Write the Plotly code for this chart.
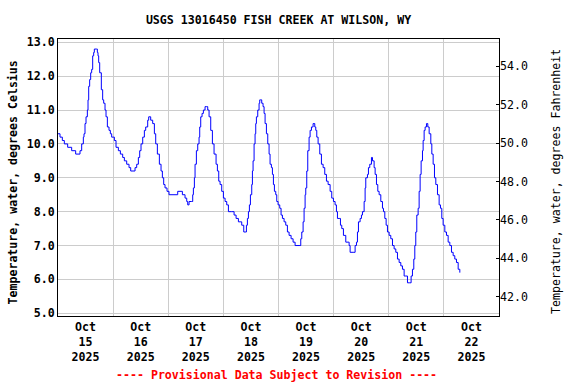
import pandas as pd
import plotly.graph_objects as go

# ---- data ----
hours = [0, 0.87, 1.89, 2.76, 4.21, 5.95, 7.69, 9.15, 9.58, 10.31,
         11.03, 11.32, 11.76, 12.2, 12.78, 13.07, 13.36, 13.79, 14.23, 14.66,
         15.1, 15.53, 15.82, 16.7, 17.13, 17.42, 17.71, 18.15, 18.87, 19.45,
         19.89, 20.47, 20.91, 21.49, 22.21, 22.79, 23.37, 24.54, 25.26, 26.28,
         27.15, 28.16, 28.89, 29.91, 30.92, 31.65, 33.1, 33.54, 34.26, 34.99,
         35.57, 36.15, 36.88, 37.6, 38.18, 39.05, 39.49, 40.36, 41.23, 41.96,
         42.54, 43.26, 44.13, 44.86, 45.44, 46.02, 46.6, 47.47, 48.34, 51.83,
         52.12, 53.57, 54.15, 55.31, 56.04, 56.48, 57.06, 58.22, 58.65, 58.94,
         59.38, 59.67, 60.25, 60.83, 61.41, 61.7, 62.14, 62.72, 63.3, 64.02,
         64.75, 65.19, 65.77, 66.49, 67.22, 67.94, 68.82, 69.4, 69.98, 70.56,
         71.28, 72.01, 72.74, 73.46, 74.19, 75.64, 76.66, 77.53, 78.54, 79.27,
         79.99, 80.87, 81.45, 82.03, 82.46, 82.9, 83.33, 83.77, 84.35, 84.64,
         84.93, 85.37, 85.8, 86.09, 86.38, 86.96, 87.54, 87.83, 88.27, 88.7,
         89.28, 89.72, 90.16, 90.74, 91.32, 91.9, 92.33, 92.91, 93.35, 93.79,
         94.22, 94.8, 95.24, 95.82, 96.54, 97.12, 97.71, 98.43, 99.16, 99.88,
         100.61, 101.48, 102.35, 103.22, 104.96, 105.69, 106.13, 106.71, 107.14, 107.58,
         107.87, 108.3, 108.74, 109.32, 109.76, 110.34, 111.06, 111.79, 112.22, 112.66,
         113.24, 113.97, 114.69, 115.42, 116.14, 116.87, 117.6, 118.47, 119.19, 119.92,
         120.64, 121.22, 121.66, 122.39, 122.97, 123.55, 124.27, 125.29, 126.31, 126.74,
         127.18, 128.48, 129.36, 129.94, 130.37, 130.81, 131.53, 132.11, 132.55, 133.28,
         133.71, 134.0, 134.73, 135.16, 135.74, 136.47, 136.91, 137.63, 138.07, 138.65,
         139.23, 139.81, 140.54, 141.26, 141.7, 142.28, 142.86, 143.44, 144.17, 144.89,
         145.62, 146.34, 147.07, 147.79, 148.52, 149.25, 149.97, 150.7, 151.42, 152.15,
         153.16, 153.74, 154.32, 154.9, 155.34, 155.77, 156.21, 156.79, 157.23, 157.66,
         158.1, 158.68, 158.97, 159.41, 159.84, 160.42, 161.0, 161.59, 162.31, 162.75,
         163.33, 163.91, 164.49, 165.21, 165.94, 166.52, 167.1, 167.68, 168.41, 169.13,
         169.86, 170.59, 171.31, 172.04, 172.76, 173.49, 174.22, 174.94]

temp_c = [10.3, 10.2, 10.1, 10.0, 9.9, 9.8, 9.7, 9.7, 9.8, 10.0,
          10.2, 10.3, 10.6, 10.8, 11.0, 11.3, 11.7, 11.9, 12.1, 12.2,
          12.6, 12.7, 12.8, 12.8, 12.7, 12.6, 12.4, 12.1, 11.6, 11.3,
          11.2, 11.0, 10.8, 10.5, 10.4, 10.3, 10.2, 10.1, 9.9, 9.8,
          9.7, 9.6, 9.5, 9.4, 9.3, 9.2, 9.2, 9.3, 9.4, 9.6,
          9.8, 10.0, 10.2, 10.4, 10.5, 10.7, 10.8, 10.7, 10.6, 10.3,
          10.0, 9.7, 9.4, 9.2, 9.0, 8.8, 8.7, 8.6, 8.5, 8.5,
          8.6, 8.6, 8.5, 8.4, 8.3, 8.2, 8.3, 8.3, 8.5, 8.7,
          9.0, 9.4, 9.8, 10.0, 10.2, 10.5, 10.8, 10.9, 11.0, 11.1,
          11.1, 11.0, 10.8, 10.4, 10.0, 9.7, 9.4, 9.2, 8.9, 8.8,
          8.6, 8.4, 8.3, 8.2, 8.0, 8.0, 7.9, 7.8, 7.7, 7.7,
          7.6, 7.4, 7.4, 7.6, 7.8, 8.0, 8.2, 8.5, 8.8, 9.2,
          9.5, 10.0, 10.3, 10.6, 10.8, 11.0, 11.2, 11.3, 11.3, 11.2,
          11.1, 10.9, 10.6, 10.3, 10.0, 9.7, 9.4, 9.3, 9.1, 8.8,
          8.6, 8.5, 8.3, 8.2, 8.1, 7.9, 7.8, 7.7, 7.6, 7.4,
          7.3, 7.2, 7.1, 7.0, 7.0, 7.2, 7.4, 7.7, 8.1, 8.5,
          8.7, 9.2, 9.8, 10.2, 10.4, 10.5, 10.6, 10.5, 10.4, 10.2,
          10.0, 9.7, 9.4, 9.3, 9.1, 8.9, 8.8, 8.6, 8.4, 8.3,
          8.2, 8.0, 7.8, 7.8, 7.6, 7.5, 7.3, 7.1, 7.1, 7.0,
          6.8, 6.8, 7.0, 7.1, 7.4, 7.7, 7.8, 7.9, 8.0, 8.3,
          8.7, 9.0, 9.1, 9.3, 9.4, 9.6, 9.5, 9.3, 9.1, 8.8,
          8.6, 8.5, 8.3, 8.1, 8.0, 7.8, 7.6, 7.4, 7.3, 7.2,
          7.0, 6.9, 6.8, 6.6, 6.5, 6.4, 6.3, 6.1, 6.1, 5.9,
          5.9, 6.1, 6.3, 6.6, 7.0, 7.4, 7.9, 8.1, 8.6, 9.1,
          9.5, 9.8, 10.1, 10.4, 10.5, 10.6, 10.5, 10.3, 10.0, 9.7,
          9.4, 9.0, 8.8, 8.5, 8.2, 8.1, 7.8, 7.6, 7.4, 7.3,
          7.1, 7.0, 6.8, 6.7, 6.6, 6.5, 6.3, 6.2]

start_time = "2025-10-15 00:00"
label_days = ["2025-10-15", "2025-10-16", "2025-10-17", "2025-10-18",
              "2025-10-19", "2025-10-20", "2025-10-21", "2025-10-22"]
label_text = ["Oct<br>15<br>2025", "Oct<br>16<br>2025", "Oct<br>17<br>2025", "Oct<br>18<br>2025",
              "Oct<br>19<br>2025", "Oct<br>20<br>2025", "Oct<br>21<br>2025", "Oct<br>22<br>2025"]
grid_days = ["2025-10-16", "2025-10-17", "2025-10-18", "2025-10-19",
             "2025-10-20", "2025-10-21", "2025-10-22"]
c_ticks = [5, 6, 7, 8, 9, 10, 11, 12, 13]
f_ticks = [42, 44, 46, 48, 50, 52, 54]

title_text = "USGS 13016450 FISH CREEK AT WILSON, WY"
left_title = "Temperature, water, degrees Celsius"
right_title = "Temperature, water, degrees Fahrenheit"
note_text = "---- Provisional Data Subject to Revision ----"

# ---- figure ----
t0 = pd.Timestamp(start_time)
times = [t0 + pd.Timedelta(hours=h) for h in hours]
temp_f = [c * 1.8 + 32 for c in temp_c]
noon = [pd.Timestamp(d) + pd.Timedelta(hours=12) for d in label_days]
mid = [pd.Timestamp(d) for d in grid_days]

FONT = "DejaVu Sans Mono"
W, H = 576, 384
L, R, T, B = 58, 77, 39, 68
pw, ph = W - L - R, H - T - B


def px(x):
    return (x - L) / pw


def py(y):
    return (H - B - y) / ph


fig = go.Figure()
fig.add_trace(go.Scatter(x=times, y=temp_c, mode="lines",
                         line=dict(color="#0000FF", width=1, shape="hv"),
                         showlegend=False))
fig.add_trace(go.Scatter(x=times, y=temp_f, yaxis="y2", mode="lines",
                         line=dict(color="rgba(0,0,0,0)", width=0),
                         hoverinfo="skip", showlegend=False))

fig.update_layout(
    width=W, height=H,
    margin=dict(l=L, r=R, t=T, b=B, autoexpand=False),
    paper_bgcolor="white", plot_bgcolor="white",
    font=dict(family=FONT, size=11.6, color="black"),
    title=dict(text=title_text, x=0.5, xref="paper", xanchor="center",
               y=1 - 20 / H, yref="container", yanchor="middle",
               font=dict(family=FONT, size=11.6, weight=700, color="black")),
    xaxis=dict(range=[t0, t0 + pd.Timedelta(days=8)],
               tickmode="array", tickvals=noon, ticktext=label_text,
               showgrid=False, ticks="", zeroline=False, automargin=False,
               tickfont=dict(family=FONT, size=11.6, weight=700),
               showline=True, linecolor="black", linewidth=1, mirror=True,
               minor=dict(tickmode="array", tickvals=mid, showgrid=True,
                          gridcolor="#CCCCCC", gridwidth=1, ticks="")),
    yaxis=dict(range=[4.92, 13.097], tickmode="array", tickvals=c_ticks,
               tickformat=".1f", showgrid=True, gridcolor="#CCCCCC", gridwidth=1,
               zeroline=False, ticks="", automargin=False,
               showline=True, linecolor="black", linewidth=1, mirror=True,
               tickfont=dict(family=FONT, size=11.6, weight=700)),
    yaxis2=dict(overlaying="y", side="right", range=[40.99, 55.42],
                tickmode="array", tickvals=f_ticks, tickformat=".1f",
                showgrid=False, zeroline=False, ticks="inside", ticklen=3,
                tickcolor="black", showline=False, automargin=False,
                tickfont=dict(family=FONT, size=11.6)),
    annotations=[
        dict(text=left_title, xref="paper", yref="paper", x=px(12), y=py(182.5),
             textangle=-90, xanchor="center", yanchor="middle", showarrow=False,
             font=dict(family=FONT, size=11.6, weight=700, color="black")),
        dict(text=right_title, xref="paper", yref="paper", x=px(556), y=py(182),
             textangle=-90, xanchor="center", yanchor="middle", showarrow=False,
             font=dict(family=FONT, size=11.6, color="black")),
        dict(text=note_text, xref="paper", yref="paper", x=px(276), y=py(375),
             xanchor="center", yanchor="middle", showarrow=False,
             font=dict(family=FONT, size=11.6, weight=700, color="#FF0000")),
    ],
)

fig.write_html("out.html", config={"displayModeBar": False},
               post_script="document.body.style.margin='0';document.body.style.padding='0';")
